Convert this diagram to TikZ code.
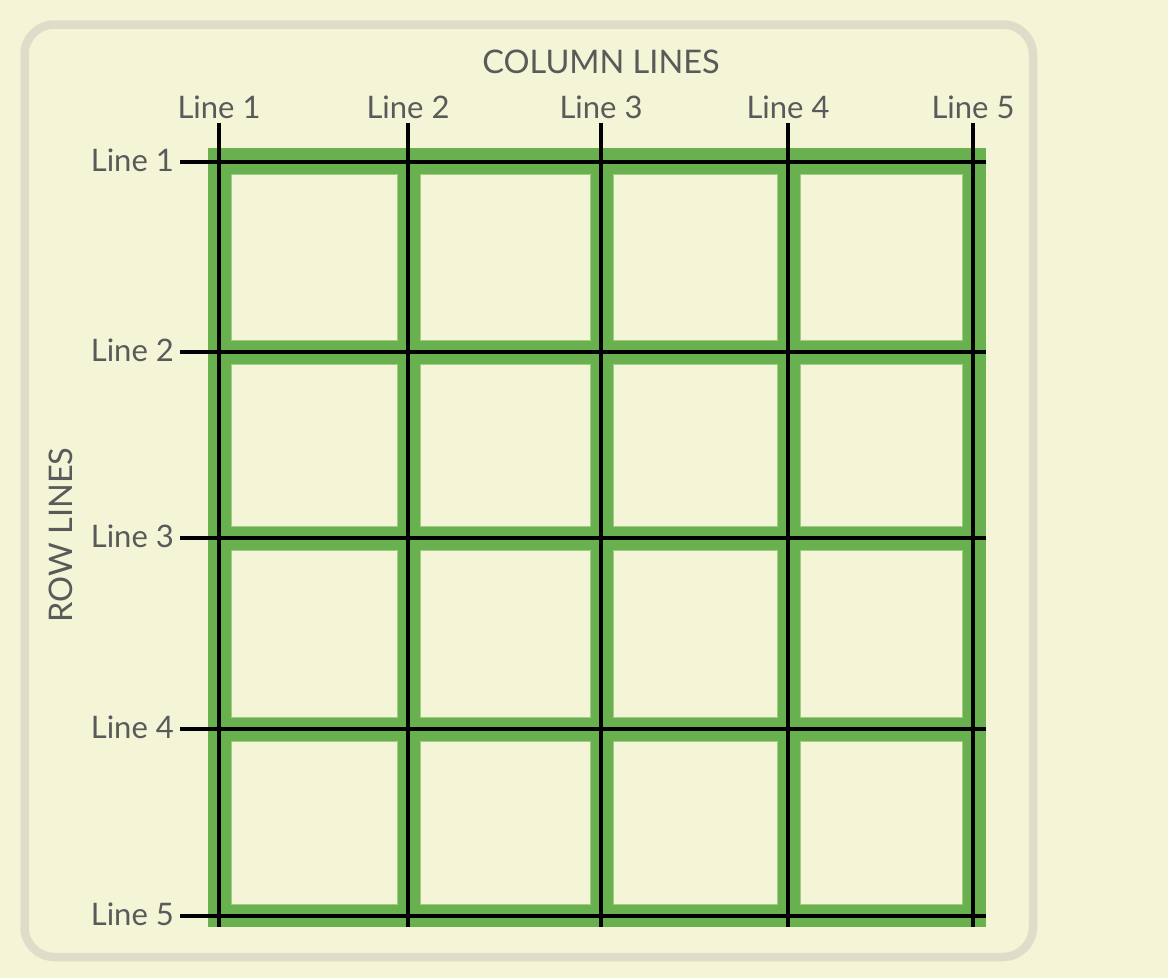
\documentclass[tikz,border=0pt]{standalone}
\usepackage{fontspec}
\setmainfont{Lato}
\definecolor{bgc}{HTML}{F4F4D6}
\definecolor{framec}{HTML}{DFDDCA}
\definecolor{gridgreen}{HTML}{69B14F}
\definecolor{txtc}{HTML}{5A5A5A}
\begin{document}
\begin{tikzpicture}[x=1pt,y=-1pt,
  lbl/.style={inner sep=0pt, text=txtc, font=\fontsize{31}{31}\selectfont},
  title/.style={inner sep=0pt, text=txtc, font=\fontsize{32.5}{32.5}\selectfont},
  gridline/.style={line width=4.5pt, draw=black},
  cellfill/.style={fill=bgc, draw=gridgreen!60!bgc, line width=1pt}]
\fill[bgc] (0,0) rectangle (1168,978);
\useasboundingbox (0,0) rectangle (1168,978);
\draw[framec, line width=8.5pt, rounded corners=30pt] (24.5,24.5) rectangle (1033,957);
% green base
\fill[gridgreen] (208,148) rectangle (986,927);
% column and row positions
\def\cx{{219,408,601,788,973}}
\def\ry{{162,352,538,729,916}}
% cells
\foreach \i in {0,...,3}{
  \foreach \j in {0,...,3}{
    \pgfmathsetmacro{\xa}{\cx[\i]+12}
    \pgfmathsetmacro{\xb}{\cx[\i+1]-11}
    \pgfmathsetmacro{\ya}{\ry[\j]+12}
    \pgfmathsetmacro{\yb}{\ry[\j+1]-12}
    \filldraw[cellfill] (\xa,\ya) rectangle (\xb,\yb);
  }
}
% column coordinates and labels
\foreach \n/\x in {1/219,2/408,3/601,4/788,5/973}{
  \coordinate (ct\n) at (\x,123);
  \coordinate (cb\n) at (\x,927);
  \node[lbl, anchor=base] (cl\n) at (\x,118) {Line \n};
}
% row coordinates and labels
\foreach \n/\y in {1/162,2/352,3/538,4/729,5/916}{
  \coordinate (rl\n) at (180,\y);
  \coordinate (rr\n) at (986,\y);
  \node[lbl, anchor=base east] (rlab\n) at (174,\y+9) {Line \n};
}
\foreach \n in {1,...,5}{
  \draw[gridline] (ct\n) -- (cb\n);
  \draw[gridline] (rl\n) -- (rr\n);
}
\node[title, anchor=base] (coltitle) at (601,73) {COLUMN LINES};
\node[title, rotate=90, anchor=center] (rowtitle) at (61,535) {ROW LINES};
\end{tikzpicture}
\end{document}
